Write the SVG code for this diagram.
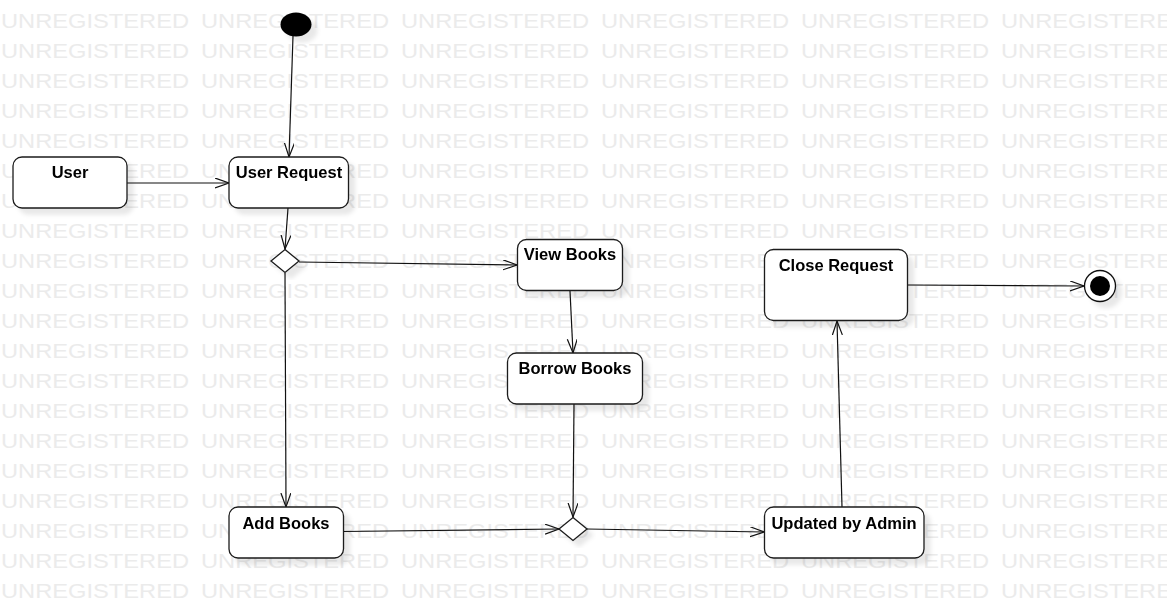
<svg xmlns="http://www.w3.org/2000/svg" xmlns:xlink="http://www.w3.org/1999/xlink" width="1167" height="610" viewBox="0 0 1167 610">
<style>
.wm{font-family:"Liberation Sans",Arial,sans-serif;font-size:19.5px;fill:#ebebeb}
.box{fill:#fff;stroke:#1a1a1a;stroke-width:1.3}
.lbl{font-family:"Liberation Sans",Arial,sans-serif;font-size:16.5px;font-weight:bold;fill:#000;text-anchor:middle}
.conn line{stroke:#111;stroke-width:1.2;marker-end:url(#arr)}
</style>
<defs>
<marker id="arr" markerUnits="userSpaceOnUse" markerWidth="16" markerHeight="12" refX="14" refY="5" orient="auto">
<path d="M0,0 L14,5 L0,10" fill="none" stroke="#111" stroke-width="1.2"/>
</marker>
<filter id="sh" x="-20%" y="-20%" width="150%" height="150%">
<feDropShadow dx="6" dy="6" stdDeviation="2" flood-color="#000" flood-opacity="0.09"/>
</filter>
<g id="wmrow">
<text class="wm" x="1" y="0" textLength="188" lengthAdjust="spacingAndGlyphs">UNREGISTERED</text>
<text class="wm" x="201" y="0" textLength="188" lengthAdjust="spacingAndGlyphs">UNREGISTERED</text>
<text class="wm" x="401" y="0" textLength="188" lengthAdjust="spacingAndGlyphs">UNREGISTERED</text>
<text class="wm" x="601" y="0" textLength="188" lengthAdjust="spacingAndGlyphs">UNREGISTERED</text>
<text class="wm" x="801" y="0" textLength="188" lengthAdjust="spacingAndGlyphs">UNREGISTERED</text>
<text class="wm" x="1001" y="0" textLength="188" lengthAdjust="spacingAndGlyphs">UNREGISTERED</text>
</g>
</defs>
<rect width="1167" height="610" fill="#fff"/>
<g id="watermark">
<use xlink:href="#wmrow" y="28"/><use xlink:href="#wmrow" y="58"/><use xlink:href="#wmrow" y="88"/><use xlink:href="#wmrow" y="118"/>
<use xlink:href="#wmrow" y="148"/><use xlink:href="#wmrow" y="178"/><use xlink:href="#wmrow" y="208"/><use xlink:href="#wmrow" y="238"/>
<use xlink:href="#wmrow" y="268"/><use xlink:href="#wmrow" y="298"/><use xlink:href="#wmrow" y="328"/><use xlink:href="#wmrow" y="358"/>
<use xlink:href="#wmrow" y="388"/><use xlink:href="#wmrow" y="418"/><use xlink:href="#wmrow" y="448"/><use xlink:href="#wmrow" y="478"/>
<use xlink:href="#wmrow" y="508"/><use xlink:href="#wmrow" y="538"/><use xlink:href="#wmrow" y="568"/><use xlink:href="#wmrow" y="598"/>
</g>
<g id="connectors" class="conn">
<line x1="293" y1="36" x2="289" y2="157"/>
<line x1="127" y1="183" x2="229" y2="183"/>
<line x1="288" y1="208" x2="285" y2="249"/>
<line x1="299" y1="262" x2="517" y2="265"/>
<line x1="285" y1="273" x2="286" y2="507"/>
<line x1="570" y1="291" x2="573" y2="353"/>
<line x1="574" y1="404" x2="573" y2="517"/>
<line x1="343" y1="531.5" x2="559" y2="529"/>
<line x1="587" y1="529" x2="764" y2="532"/>
<line x1="842" y1="507" x2="837" y2="321"/>
<line x1="907" y1="285" x2="1084" y2="286"/>
</g>
<g id="start" filter="url(#sh)"><ellipse cx="296" cy="24.5" rx="15.5" ry="12" fill="#000"/></g>
<g id="user" filter="url(#sh)"><rect class="box" x="13" y="157" width="114" height="51" rx="9"/><text class="lbl" x="70" y="178">User</text></g>
<g id="userRequest" filter="url(#sh)"><rect class="box" x="229" y="157" width="119.5" height="51" rx="9"/><text class="lbl" x="289" y="178">User Request</text></g>
<g id="decision1" filter="url(#sh)"><polygon class="box" points="285,249.5 299,261 285,272.5 271,261"/></g>
<g id="viewBooks" filter="url(#sh)"><rect class="box" x="517.5" y="239.5" width="105" height="51" rx="9"/><text class="lbl" x="570" y="260">View Books</text></g>
<g id="borrowBooks" filter="url(#sh)"><rect class="box" x="507.5" y="353" width="135" height="51" rx="9"/><text class="lbl" x="575" y="374">Borrow Books</text></g>
<g id="addBooks" filter="url(#sh)"><rect class="box" x="229" y="507" width="114.5" height="51" rx="9"/><text class="lbl" x="286" y="528.5">Add Books</text></g>
<g id="decision2" filter="url(#sh)"><polygon class="box" points="573,517.5 587,529 573,540.5 559,529"/></g>
<g id="updatedByAdmin" filter="url(#sh)"><rect class="box" x="764.5" y="507" width="159.5" height="51" rx="9"/><text class="lbl" x="844" y="528.5">Updated by Admin</text></g>
<g id="closeRequest" filter="url(#sh)"><rect class="box" x="764.5" y="249.5" width="143" height="71" rx="9"/><text class="lbl" x="836" y="271">Close Request</text></g>
<g id="end" filter="url(#sh)"><circle cx="1100" cy="286" r="15.5" fill="#fff" stroke="#111" stroke-width="1.3"/><circle cx="1100" cy="286" r="10" fill="#000"/></g>
</svg>
